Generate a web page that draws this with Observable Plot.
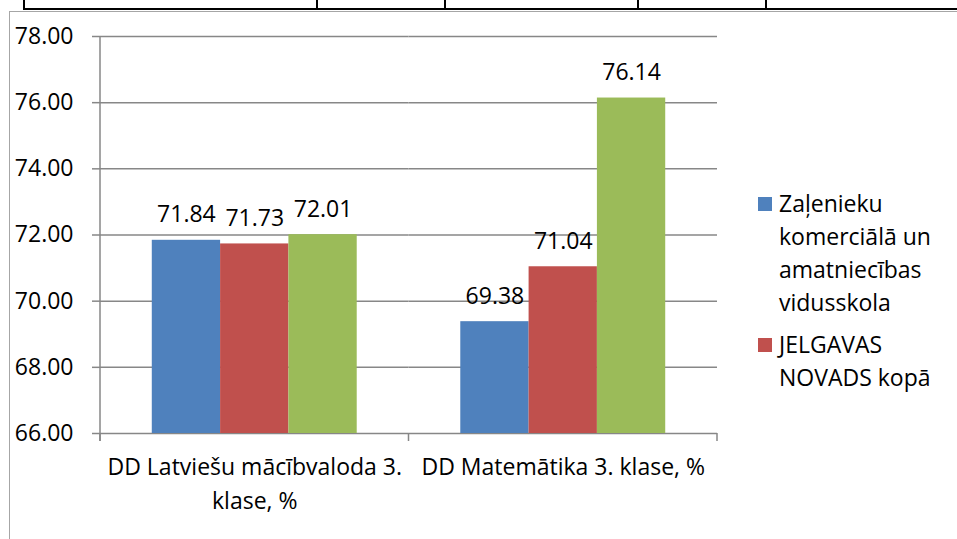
<!DOCTYPE html>
<html><head><meta charset="utf-8">
<script src="https://cdn.jsdelivr.net/npm/d3@7"></script>
<script src="https://cdn.jsdelivr.net/npm/@observablehq/plot@0.6"></script>
<style>
body{margin:0;background:#fff;}
#wrap{position:relative;width:957px;height:539px;overflow:hidden;font-family:"Open Sans",sans-serif;background:#fff;}
.tb-h{position:absolute;left:24px;top:8px;width:933px;height:2px;background:#000;}
.tb-v{position:absolute;top:0;width:2px;height:10px;background:#000;}
.frame-top{position:absolute;left:9px;top:11px;width:948px;height:0;border-top:1.5px solid #a6a6a6;}
.frame-left{position:absolute;left:9px;top:11px;width:0;height:528px;border-left:1.5px solid #a6a6a6;}
#chart svg{position:absolute;left:0;top:0;}
#legend{position:absolute;left:758px;top:187px;font-size:23px;line-height:33px;color:#000;}
.item{position:relative;padding-left:21px;width:165px;margin-bottom:9px;}
.sw{position:absolute;left:0;top:10px;width:14px;height:14px;}
</style></head>
<body>
<div id="wrap">
  <div class="tb-h"></div>
  <div class="tb-v" style="left:23px"></div>
  <div class="tb-v" style="left:316px"></div>
  <div class="tb-v" style="left:444px"></div>
  <div class="tb-v" style="left:637px"></div>
  <div class="tb-v" style="left:765px"></div>
  <div class="frame-top"></div>
  <div class="frame-left"></div>
  <div id="chart"></div>
  <div id="legend"></div>
</div>
<script>
const categories = ["DD Latviešu mācībvaloda 3. klase, %", "DD Matemātika 3. klase, %"];
const categoryLabels = ["DD Latviešu mācībvaloda 3.\nklase, %", "DD Matemātika 3. klase, %"];
const series = ["Zaļenieku komerciālā un amatniecības vidusskola", "JELGAVAS NOVADS kopā", "Latvijā kopā"];
const seriesColors = ["#4F81BD", "#C0504D", "#9BBB59"];
const schoolValues = [71.84, 69.38];
const countyValues = [71.73, 71.04];
const thirdValues = [72.01, 76.14];
const yTicks = [66, 68, 70, 72, 74, 76, 78];
const legendSeries = series.slice(0, 2);

const valuesBySeries = [schoolValues, countyValues, thirdValues];
const data = categories.flatMap((c, i) => series.map((s, j) => ({category: c, series: s, value: valuesBySeries[j][i]})));
const yMin = yTicks[0], yMax = yTicks[yTicks.length - 1];
const fmt = d => d.toFixed(2);
const gridColor = "#878787";

const plot = Plot.plot({
  width: 957, height: 539,
  marginLeft: 100, marginRight: 240, marginTop: 36, marginBottom: 106,
  style: {fontFamily: '"Open Sans", sans-serif', fontSize: "23px", color: "#000", background: "none", overflow: "visible"},
  fx: {domain: categories, padding: 0, axis: null, round: false},
  x: {domain: series, paddingInner: 0, paddingOuter: 0.758, axis: null, round: false},
  y: {domain: [yMin, yMax], axis: null},
  color: {domain: series, range: seriesColors},
  marks: [
    Plot.ruleY(yTicks, {stroke: gridColor, strokeWidth: 1.5}),
    Plot.barY(data, {fx: "category", x: "series", y1: yMin, y2: "value", fill: "series"}),
    Plot.text(data, {fx: "category", x: "series", y: "value", text: d => fmt(d.value), lineAnchor: "bottom", dy: -18, fill: "#000"}),
    Plot.axisY(yTicks, {tickSize: 8, tickPadding: 19, tickFormat: fmt, stroke: gridColor, strokeWidth: 1.5, label: null}),
    Plot.text(categories, {fx: d => d, text: d => categoryLabels[categories.indexOf(d)], frameAnchor: "bottom", lineAnchor: "top", dy: 18, lineHeight: 1.45, fill: "#000"})
  ]
});

// axis line and category boundary ticks, placed through Plot's scales
const fxS = plot.scale("fx"), yS = plot.scale("y");
const svg = d3.select(plot);
const bw = fxS.bandwidth;
const yb = yS.apply(yMin), yt = yS.apply(yMax);
const left = fxS.apply(categories[0]);
const g = svg.append("g").attr("stroke", gridColor).attr("stroke-width", 1.5);
g.append("line").attr("x1", left).attr("x2", left).attr("y1", yt).attr("y2", yb + 8);
const edges = [...categories.map(c => fxS.apply(c)), fxS.apply(categories[categories.length - 1]) + bw];
edges.forEach(x => g.append("line").attr("x1", x).attr("x2", x).attr("y1", yb).attr("y2", yb + 8));

document.getElementById("chart").appendChild(plot);

const colorS = plot.scale("color");
const legend = document.getElementById("legend");
legendSeries.forEach(s => {
  const item = document.createElement("div");
  item.className = "item";
  const sw = document.createElement("span");
  sw.className = "sw";
  sw.style.background = colorS.apply(s);
  item.appendChild(sw);
  item.appendChild(document.createTextNode(s));
  legend.appendChild(item);
});
</script>
</body></html>
